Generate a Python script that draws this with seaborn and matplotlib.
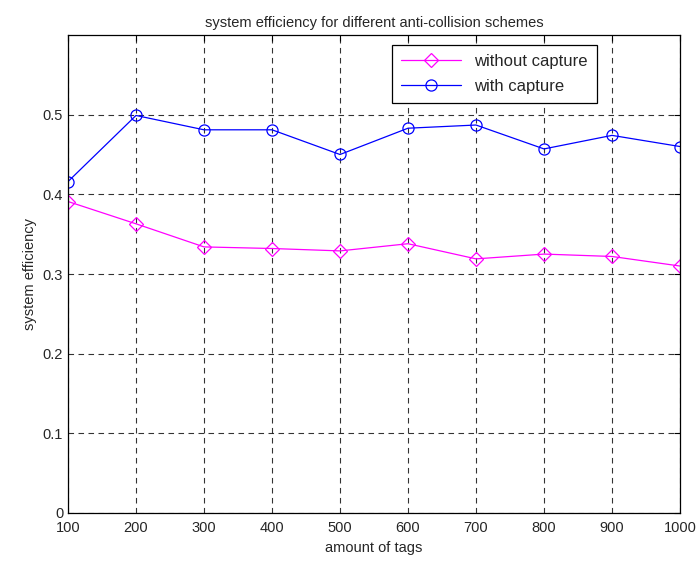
import matplotlib
matplotlib.use("Agg")
import matplotlib.pyplot as plt
from matplotlib.lines import Line2D
import seaborn as sns
import pandas as pd

tags = [100, 200, 300, 400, 500, 600, 700, 800, 900, 1000]
without_capture = [0.391, 0.363, 0.334, 0.332, 0.329, 0.338, 0.319, 0.325, 0.322, 0.310]
with_capture = [0.416, 0.499, 0.481, 0.481, 0.450, 0.483, 0.487, 0.457, 0.474, 0.460]
series_names = ["without capture", "with capture"]
colors = {"without capture": "#ff00ff", "with capture": "#0000ff"}
markers = {"without capture": "D", "with capture": "o"}

sns.set_style("white")
plt.rcParams['font.family'] = ['Liberation Sans', 'DejaVu Sans']

df = pd.concat([
    pd.DataFrame({"tags": tags, "eff": without_capture, "scheme": "without capture"}),
    pd.DataFrame({"tags": tags, "eff": with_capture, "scheme": "with capture"}),
])

fig = plt.figure(figsize=(6.96, 5.67), dpi=100)
ax = fig.add_axes([68/696, 54/567, 612/696, 478/567])

sns.lineplot(data=df, x="tags", y="eff", hue="scheme", style="scheme",
             palette=colors, markers=markers,
             dashes=False, ax=ax, linewidth=0.9, markersize=8,
             markeredgewidth=0.9, legend=False)
for line in ax.lines:
    line.set_markerfacecolor("none")
    line.set_markeredgecolor(line.get_color())
ax.lines[0].set_markersize(7)

ax.set_xlim(100, 1000)
ax.set_ylim(0, 0.6)
ax.set_xticks(tags)
ax.set_yticks([0, 0.1, 0.2, 0.3, 0.4, 0.5])
ax.set_yticklabels(["0", "0.1", "0.2", "0.3", "0.4", "0.5"])
ax.tick_params(direction="in", length=4, labelsize=10.5, color="black", top=True, right=True)
ax.tick_params(axis="x", pad=6)
ax.grid(True, linestyle=(0, (5, 4)), color="black", linewidth=0.8, alpha=0.8)
for s in ax.spines.values():
    s.set_color("black")
    s.set_linewidth(0.9)
ax.set_xlabel("amount of tags", fontsize=10.5)
ax.set_ylabel("system efficiency", fontsize=10.5)
ax.set_title("system efficiency for different anti-collision schemes", fontsize=10.5)

handles = [Line2D([], [], color=colors[n], marker=markers[n], markerfacecolor="none",
                  markeredgecolor=colors[n], markersize=7 if n == "without capture" else 8,
                  linewidth=0.9, markeredgewidth=0.9) for n in series_names]
leg = ax.legend(handles, series_names, loc="upper right", bbox_to_anchor=(0.864, 0.979),
                borderaxespad=0, fontsize=12, frameon=True, fancybox=False,
                edgecolor="black", framealpha=1,
                handlelength=3.6, borderpad=0.55, labelspacing=0.6)
leg.get_frame().set_linewidth(0.9)

fig.savefig("out.png", dpi=100)
